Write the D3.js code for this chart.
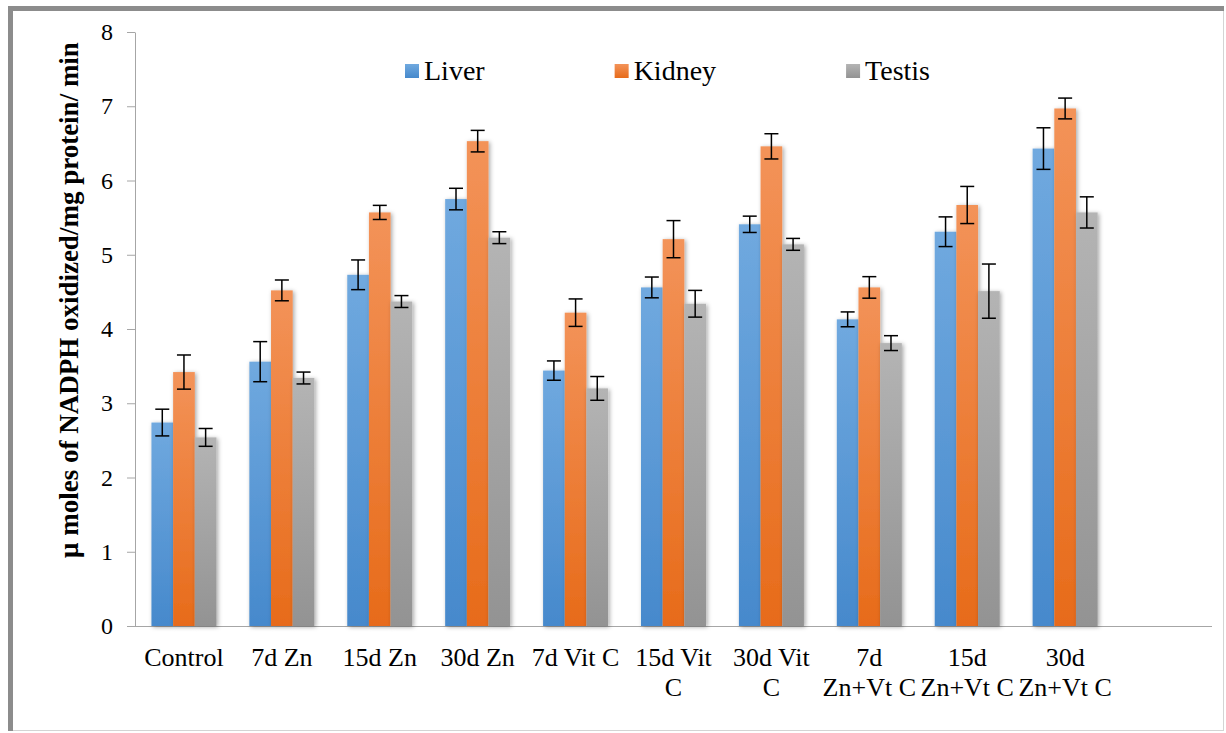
<!DOCTYPE html>
<html>
<head>
    <title>NADPH oxidized</title>
    <script src="https://d3js.org/d3.v7.min.js"></script>
    <style>
        * { margin: 0; padding: 0; }
        body { background: #fff; }
        text { font-family: "Liberation Serif", "Times New Roman", serif; fill: #000; }
    </style>
</head>
<body>
<div id="chart"></div>
<script>
    // data
    const categories = ["Control", "7d Zn", "15d Zn", "30d Zn", "7d Vit C", "15d Vit\nC", "30d Vit\nC", "7d\nZn+Vt C", "15d\nZn+Vt C", "30d\nZn+Vt C"];
    const seriesNames = ["Liver", "Kidney", "Testis"];
    const liver = [2.74, 3.56, 4.73, 5.75, 3.44, 4.56, 5.41, 4.13, 5.31, 6.43];
    const liverErr = [0.18, 0.27, 0.2, 0.145, 0.13, 0.14, 0.11, 0.1, 0.2, 0.28];
    const kidney = [3.42, 4.52, 5.57, 6.53, 4.22, 5.21, 6.46, 4.56, 5.67, 6.97];
    const kidneyErr = [0.23, 0.14, 0.095, 0.145, 0.185, 0.25, 0.17, 0.145, 0.25, 0.14];
    const testis = [2.54, 3.34, 4.37, 5.23, 3.2, 4.34, 5.14, 3.81, 4.51, 5.57];
    const testisErr = [0.12, 0.08, 0.08, 0.08, 0.16, 0.18, 0.08, 0.1, 0.365, 0.21];
    const yTicks = [0, 1, 2, 3, 4, 5, 6, 7, 8];

    const width = 1226, height = 733;
    const plotLeft = 135, plotRight = 1212, plotTop = 32, plotBottom = 626;

    const colors = {
        Liver: ["#70a9df", "#4689cc"],
        Kidney: ["#f39359", "#e76b1a"],
        Testis: ["#b4b4b4", "#939393"]
    };

    const svg = d3.select("#chart").append("svg")
        .attr("width", width)
        .attr("height", height);

    const defs = svg.append("defs");
    seriesNames.forEach(function(s) {
        const g = defs.append("linearGradient")
            .attr("id", "grad" + s)
            .attr("x1", 0).attr("y1", 0).attr("x2", 0).attr("y2", 1);
        g.append("stop").attr("offset", "0%").attr("stop-color", colors[s][0]);
        g.append("stop").attr("offset", "100%").attr("stop-color", colors[s][1]);
    });
    const f = defs.append("filter").attr("id", "shadow")
        .attr("x", "-30%").attr("y", "-5%").attr("width", "160%").attr("height", "110%");
    f.append("feDropShadow").attr("dx", 1.5).attr("dy", 1).attr("stdDeviation", 2)
        .attr("flood-color", "#000").attr("flood-opacity", 0.35);

    // frame
    svg.append("rect").attr("x", 8.5).attr("y", 6.5).attr("width", 1215).attr("height", 724)
        .attr("fill", "#fff").attr("stroke", "#d4d4d4").attr("stroke-width", 1);
    svg.append("path").attr("d", "M10.5,731 V8.5 H1224")
        .attr("fill", "none").attr("stroke", "#8c8c8c").attr("stroke-width", 5);

    const data = categories.map(function(c, i) {
        return {
            cat: c,
            vals: [
                { s: "Liver", v: liver[i], e: liverErr[i] },
                { s: "Kidney", v: kidney[i], e: kidneyErr[i] },
                { s: "Testis", v: testis[i], e: testisErr[i] }
            ]
        };
    });

    // one empty slot at the right end of the axis, like the original
    const x0 = d3.scaleBand()
        .domain(categories)
        .range([plotLeft, plotLeft + (plotRight - plotLeft) * categories.length / (categories.length + 1)])
        .paddingInner(0.336)
        .paddingOuter(0.168);
    const x1 = d3.scaleBand()
        .domain(seriesNames)
        .range([0, x0.bandwidth()]);
    const y = d3.scaleLinear().domain([0, 8]).range([plotBottom, plotTop]);

    // y axis
    const yAxis = svg.append("g")
        .attr("transform", `translate(${plotLeft},0)`)
        .call(d3.axisLeft(y).tickValues(yTicks).tickSize(8).tickPadding(14).tickSizeOuter(0));
    yAxis.select(".domain").attr("stroke", "#a6a6a6");
    yAxis.selectAll(".tick line").attr("stroke", "#a6a6a6");
    yAxis.selectAll(".tick text")
        .style("font-family", "'Liberation Serif', serif")
        .style("font-size", "24px")
        .attr("fill", "#000");

    // x axis line
    svg.append("line")
        .attr("x1", plotLeft).attr("x2", plotRight)
        .attr("y1", y(0) + 0.5).attr("y2", y(0) + 0.5)
        .attr("stroke", "#a6a6a6");

    // bars
    const groups = svg.selectAll(".grp")
        .data(data)
        .join("g")
        .attr("class", "grp")
        .attr("transform", d => `translate(${x0(d.cat)},0)`);

    groups.selectAll("rect")
        .data(d => d.vals)
        .join("rect")
        .attr("x", d => x1(d.s))
        .attr("y", d => y(d.v))
        .attr("width", x1.bandwidth())
        .attr("height", d => y(0) - y(d.v))
        .attr("fill", d => `url(#grad${d.s})`)
        .attr("filter", "url(#shadow)");

    // error bars
    const eb = groups.selectAll(".err")
        .data(d => d.vals)
        .join("g")
        .attr("class", "err")
        .attr("stroke", "#000")
        .attr("stroke-width", 1.5);
    eb.append("line")
        .attr("x1", d => x1(d.s) + x1.bandwidth() / 2)
        .attr("x2", d => x1(d.s) + x1.bandwidth() / 2)
        .attr("y1", d => y(d.v + d.e))
        .attr("y2", d => y(d.v - d.e));
    [1, -1].forEach(function(sign) {
        eb.append("line")
            .attr("x1", d => x1(d.s) + x1.bandwidth() / 2 - 7)
            .attr("x2", d => x1(d.s) + x1.bandwidth() / 2 + 7)
            .attr("y1", d => y(d.v + sign * d.e))
            .attr("y2", d => y(d.v + sign * d.e));
    });

    // category labels
    const labels = svg.selectAll(".xlab")
        .data(categories)
        .join("text")
        .attr("class", "xlab")
        .attr("text-anchor", "middle")
        .style("font-size", "26px");
    labels.each(function(c) {
        const t = d3.select(this);
        c.split("\n").forEach(function(line, i) {
            t.append("tspan")
                .attr("x", x0(c) + x0.bandwidth() / 2)
                .attr("y", 666 + i * 30)
                .text(line);
        });
    });

    // y title
    svg.append("text")
        .attr("transform", "translate(78,300) rotate(-90)")
        .attr("text-anchor", "middle")
        .style("font-size", "27px")
        .style("font-weight", "bold")
        .text("\u03bc moles of NADPH oxidized/mg protein/ min");

    // legend
    const legend = svg.append("g").attr("transform", "translate(405,0)");
    let lx = 0;
    seriesNames.forEach(function(s) {
        const item = legend.append("g").attr("transform", `translate(${lx},0)`);
        item.append("rect")
            .attr("x", 0).attr("y", 64)
            .attr("width", 14).attr("height", 14)
            .attr("fill", `url(#grad${s})`);
        const t = item.append("text")
            .attr("x", 19).attr("y", 79.5)
            .style("font-size", "28px")
            .text(s);
        lx += 19 + t.node().getComputedTextLength() + 130;
    });
</script>
</body>
</html>
